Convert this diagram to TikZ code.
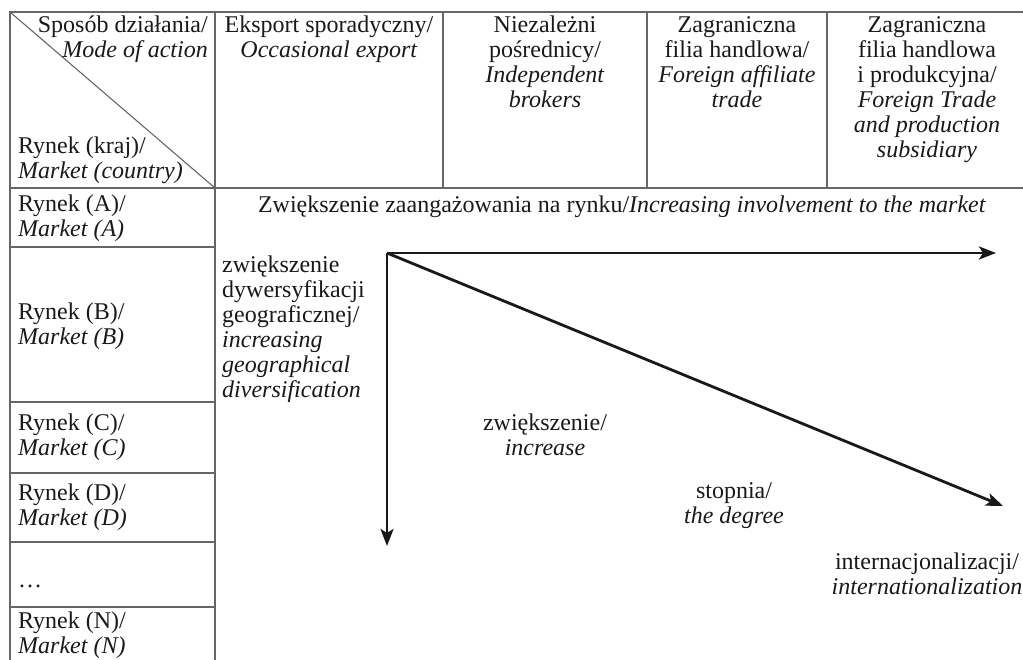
\documentclass[tikz,border=0pt]{standalone}
\usepackage{fontspec}
\setmainfont{Liberation Serif}[ItalicFont={Liberation Serif Italic}, BoldFont={Liberation Serif Bold}]
\usetikzlibrary{arrows.meta}
\begin{document}
\begin{tikzpicture}[x=1pt,y=-1pt,
  every node/.style={font=\fontsize{24}{25}\selectfont, inner sep=0pt, text=black!90},
  grid/.style={draw=black!60, line width=1.1pt},
  arr/.style={draw=black!90, line width=2.8pt, -{Stealth[length=17pt,width=13pt,inset=4pt]}},
  lab/.style={align=center},
  rowlab/.style={anchor=west, align=left}]
\useasboundingbox (0,0) rectangle (1023,660);
% table lines
\draw[grid] (10,660) -- (10,12) -- (1023,12);
\draw[grid] (10,188) -- (1023,188);
\draw[grid] (215,12) -- (215,660);
\draw[grid] (443,12) -- (443,188);
\draw[grid] (647,12) -- (647,188);
\draw[grid] (827,12) -- (827,188);
\draw[grid] (10,12) -- (215,188);
\foreach \y in {247,402,473,542,607} \draw[grid] (10,\y) -- (215,\y);
% header texts
\node (h1a) [anchor=north east, align=right] at (208,16) {Sposób działania/\\\textit{Mode of action}};
\node (h1b) [anchor=south west, align=left] at (18,184) {Rynek (kraj)/\\\textit{Market (country)}};
\node (h2) [anchor=north, lab] at (329,16) {Eksport sporadyczny/\\\textit{Occasional export}};
\node (h3) [anchor=north, lab] at (545,16) {Niezależni\\pośrednicy/\\\textit{Independent}\\\textit{brokers}};
\node (h4) [anchor=north, lab] at (737,16) {Zagraniczna\\filia handlowa/\\\textit{Foreign affiliate}\\\textit{trade}};
\node (h5) [anchor=north, lab] at (927,16) {Zagraniczna\\filia handlowa\\i produkcyjna/\\\textit{Foreign Trade}\\\textit{and production}\\\textit{subsidiary}};
% row labels
\node (rA) [rowlab] at (18,218) {Rynek (A)/\\\textit{Market (A)}};
\node (rB) [rowlab] at (18,326) {Rynek (B)/\\\textit{Market (B)}};
\node (rC) [rowlab] at (18,437) {Rynek (C)/\\\textit{Market (C)}};
\node (rD) [rowlab] at (18,507) {Rynek (D)/\\\textit{Market (D)}};
\node (rdots) [anchor=base west] at (18,587) {\dots};
\node (rN) [anchor=north west, align=left] at (18,612) {Rynek (N)/\\\textit{Market (N)}};
% body
\node (top) [lab] at (622,207) {Zwiększenie zaangażowania na rynku/\textit{Increasing involvement to the market}};
\node (geo) [anchor=north west, align=left] at (222,256) {zwiększenie\\dywersyfikacji\\geograficznej/\\\textit{increasing}\\\textit{geographical}\\\textit{diversification}};
\node (inc) [lab] at (545,435) {zwiększenie/\\\textit{increase}};
\node (deg) [lab] at (734,506) {stopnia/\\\textit{the degree}};
\node (intl) [lab] at (927,574) {internacjonalizacji/\\\textit{internationalization}};
% arrows
\coordinate (O) at (387,253);
\coordinate (H) at (996,253);
\coordinate (V) at (387,546);
\coordinate (D) at (1003,506);
\draw[arr] (O) -- (H);
\draw[arr] (O) -- (V);
\draw[arr] (O) -- (D);
\end{tikzpicture}
\end{document}
